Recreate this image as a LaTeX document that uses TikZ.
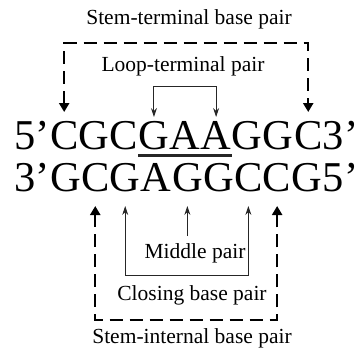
\documentclass[tikz,border=0pt]{standalone}
\usepackage{fontspec}
\setmainfont{Liberation Serif}
\usetikzlibrary{arrows.meta,calc}
\begin{document}
\begin{tikzpicture}[x=1pt,y=-1pt,
  nt/.style={font=\fontsize{42.5}{42.5}\selectfont, inner sep=0pt, anchor=base west},
  lbl/.style={font=\fontsize{21.5}{21.5}\selectfont, inner sep=0pt},
  dashlink/.style={line width=2.2pt, dash pattern=on 13pt off 7pt,
    {Triangle[width=10pt,length=9pt]}-{Triangle[width=10pt,length=9pt]}},
  thinlink/.style={line width=0.9pt, draw=black!85,
    {Stealth[width=6pt,length=9pt]}-{Stealth[width=6pt,length=9pt]}},
  onetip/.style={line width=0.9pt, draw=black!85, -{Stealth[width=6pt,length=9pt]}},
]
\useasboundingbox (0,0) rectangle (358,349);

% levels used by brackets and arrow tips
\coordinate (ttip) at (0,112);
\coordinate (tbar) at (0,43);
\coordinate (ltip) at (0,117);
\coordinate (lbar) at (0,86);
\coordinate (btip) at (0,206);
\coordinate (bbar) at (0,320);
\coordinate (cbar) at (0,275);
\coordinate (mstart) at (0,236);

% top strand 5'-3'
\node[nt] (t0) at (14,149) {5’};
\foreach \ch [count=\i, remember=\i as \j (initially 0)] in {C,G,C,G,A,A,G,G,C}
  \node[nt] (t\i) at (t\j.base east) {\ch};
\node[nt] (t10) at (t9.base east) {3’};

% bottom strand 3'-5'
\node[nt] (b0) at (14,191) {3’};
\foreach \ch [count=\i, remember=\i as \j (initially 0)] in {G,C,G,A,G,G,C,C,G}
  \node[nt] (b\i) at (b\j.base east) {\ch};
\node[nt] (b10) at (b9.base east) {5’};

% loop underline
\coordinate (ul) at (0,155.5);
\draw[line width=2.4pt, draw=black!85] (t4.west |- ul) -- (t6.east |- ul);

% labels
\node[lbl] (stemterm) at (189,19) {Stem-terminal base pair};
\node[lbl] (loopterm) at (183,66) {Loop-terminal pair};
\node[lbl] (middle) at (195,253) {Middle pair};
\node[lbl] (closing) at (192,295) {Closing base pair};
\node[lbl] (stemint) at (192,338) {Stem-internal base pair};

% brackets and arrows
\draw[dashlink] (t1 |- ttip) -- (t1 |- tbar) -- (t9 |- tbar) -- (t9 |- ttip);
\draw[thinlink] (t4 |- ltip) -- (t4 |- lbar) -- (t6 |- lbar) -- (t6 |- ltip);
\draw[dashlink] (b2 |- btip) -- (b2 |- bbar) -- (b8 |- bbar) -- (b8 |- btip);
\draw[thinlink] (b3 |- btip) -- (b3 |- cbar) -- (b7 |- cbar) -- (b7 |- btip);
\draw[onetip] (b5 |- mstart) -- (b5 |- btip);
\end{tikzpicture}
\end{document}
